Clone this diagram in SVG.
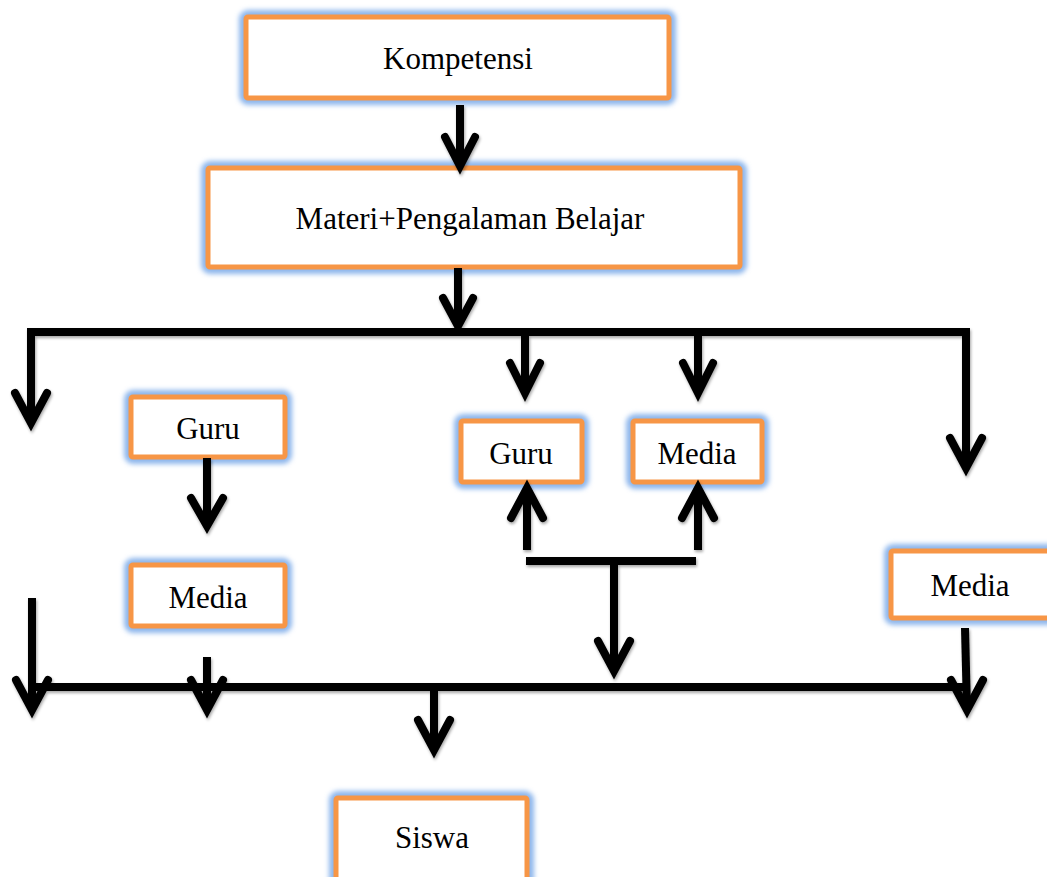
<svg xmlns="http://www.w3.org/2000/svg" width="1047" height="877" viewBox="0 0 1047 877">
<defs>
<filter id="glow" x="-20%" y="-40%" width="140%" height="180%"><feGaussianBlur stdDeviation="2.5"/></filter>
<filter id="shadow" x="-10%" y="-10%" width="120%" height="120%"><feDropShadow dx="1" dy="2" stdDeviation="1.5" flood-color="#000" flood-opacity="0.35"/></filter>
</defs>
<style>
.halo{fill:none;stroke:#8DB6EC;stroke-width:14;filter:url(#glow)}
.box{fill:#fff;stroke:#F79646;stroke-width:5}
.lbl{font-family:"Liberation Serif","Times New Roman",serif;font-size:31px;fill:#000;text-anchor:middle}
.ln{fill:none;stroke:#000;stroke-width:8;stroke-linejoin:miter}
.hd{fill:none;stroke:#000;stroke-width:8;stroke-linecap:round;stroke-linejoin:miter}
</style>
<rect width="1047" height="877" fill="#fff"/>
<g id="kompetensi"><rect class="halo" x="246" y="17" width="423" height="81" rx="2"/><rect class="box" x="246" y="17" width="423" height="81" rx="2"/><text class="lbl" x="458" y="69">Kompetensi</text></g>
<g id="materi"><rect class="halo" x="208" y="168" width="532" height="99" rx="2"/><rect class="box" x="208" y="168" width="532" height="99" rx="2"/><text class="lbl" x="470" y="229">Materi+Pengalaman Belajar</text></g>
<g id="guru1"><rect class="halo" x="131" y="397" width="154" height="60" rx="2"/><rect class="box" x="131" y="397" width="154" height="60" rx="2"/><text class="lbl" x="208" y="439">Guru</text></g>
<g id="media1"><rect class="halo" x="131" y="565" width="154" height="61" rx="2"/><rect class="box" x="131" y="565" width="154" height="61" rx="2"/><text class="lbl" x="208" y="608">Media</text></g>
<g id="guru2"><rect class="halo" x="461" y="421" width="121" height="61" rx="2"/><rect class="box" x="461" y="421" width="121" height="61" rx="2"/><text class="lbl" x="521" y="464">Guru</text></g>
<g id="media2"><rect class="halo" x="633" y="421" width="129" height="61" rx="2"/><rect class="box" x="633" y="421" width="129" height="61" rx="2"/><text class="lbl" x="697" y="464">Media</text></g>
<g id="media3"><rect class="halo" x="891" y="551" width="165" height="67" rx="2"/><rect class="box" x="891" y="551" width="165" height="67" rx="2"/><text class="lbl" x="970" y="596">Media</text></g>
<g id="siswa"><rect class="halo" x="336" y="798" width="191" height="90" rx="2"/><rect class="box" x="336" y="798" width="191" height="90" rx="2"/><text class="lbl" x="432" y="848">Siswa</text></g>
<g id="connectors" filter="url(#shadow)">
<path class="ln" d="M460,105 V165"/><path class="hd" d="M445,137 L460,166 L475,137"/>
<path class="ln" d="M458,268 V326"/><path class="hd" d="M443,298 L458,326 L473,298"/>
<path class="ln" d="M31,422 V332 H966 V467"/>
<path class="hd" d="M15,393 L31,423 L47,393"/>
<path class="hd" d="M950,438 L966,468 L982,438"/>
<path class="ln" d="M525,332 V392"/><path class="hd" d="M510,363 L525,393 L540,363"/>
<path class="ln" d="M698,332 V392"/><path class="hd" d="M683,363 L698,393 L713,363"/>
<path class="ln" d="M207,458 V525"/><path class="hd" d="M191,498 L207,526 L223,498"/>
<path class="ln" d="M527,550 V488"/><path class="hd" d="M511,518 L527,488 L543,518"/>
<path class="ln" d="M698,550 V488"/><path class="hd" d="M682,518 L698,488 L714,518"/>
<path class="ln" d="M526,561 H696"/>
<path class="ln" d="M614,561 V670"/><path class="hd" d="M598,641 L614,671 L630,641"/>
<path class="ln" d="M32,598 V709"/><path class="hd" d="M16,680 L32,710 L48,680"/>
<path class="ln" d="M32,687 H966"/>
<path class="ln" d="M207,657 V710"/><path class="hd" d="M191,680 L207,710 L223,680"/>
<path class="ln" d="M965,628 L967,710"/><path class="hd" d="M951,680 L967,710 L983,680"/>
<path class="ln" d="M434,687 V749"/><path class="hd" d="M418,720 L434,750 L450,720"/>
</g>
</svg>
